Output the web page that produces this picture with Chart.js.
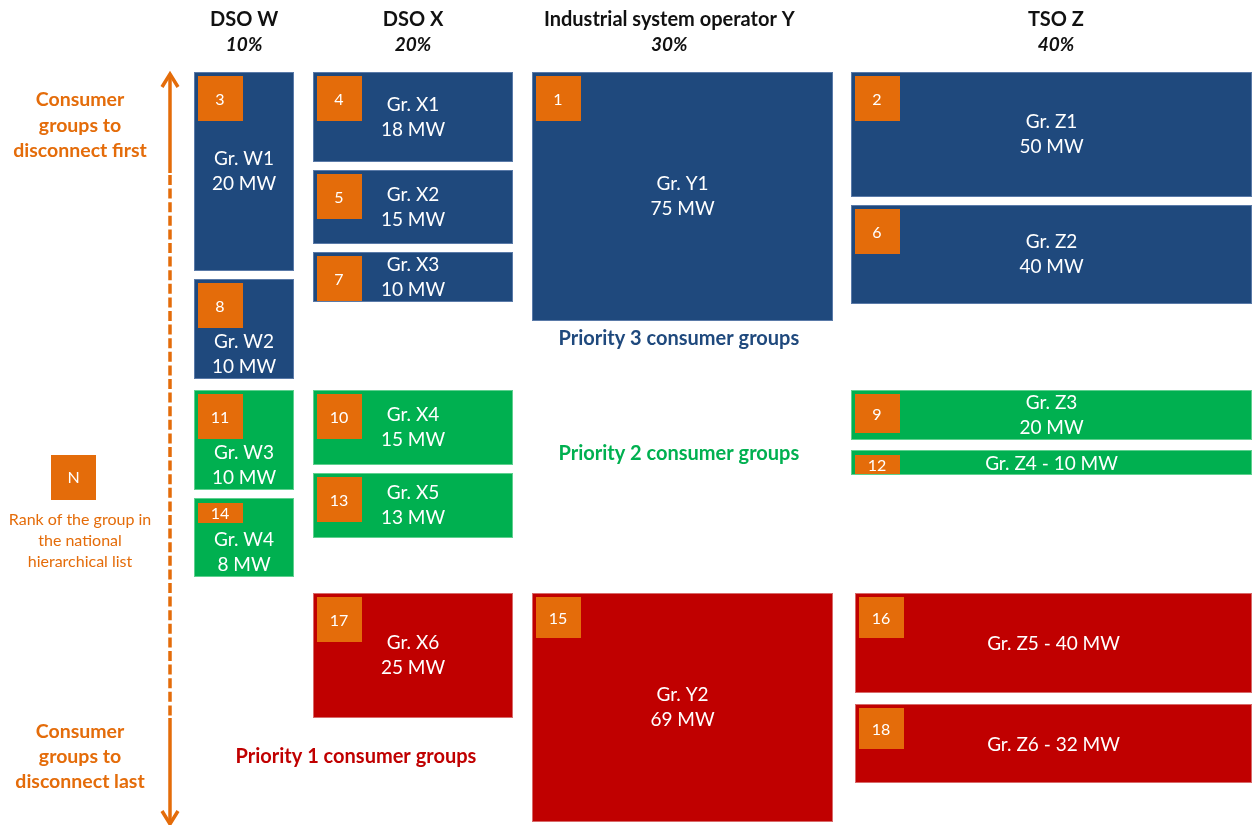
<!DOCTYPE html>
<html><head><meta charset="utf-8">
<script src="https://cdn.jsdelivr.net/npm/chart.js@4/dist/chart.umd.min.js"></script>
<style>html,body{margin:0;padding:0;background:#fff}#wrap{width:1253px;height:825px;position:relative}</style>
</head><body><div id="wrap"><canvas id="c" width="1253" height="825"></canvas></div>
<script>
// ---------- DATA ----------
const operators = ['DSO W', 'DSO X', 'Industrial system operator Y', 'TSO Z'];
const operatorShares = [10, 20, 30, 40]; // %
const groupNames = ['Gr. W1','Gr. W2','Gr. W3','Gr. W4','Gr. X1','Gr. X2','Gr. X3','Gr. X4','Gr. X5','Gr. X6','Gr. Y1','Gr. Y2','Gr. Z1','Gr. Z2','Gr. Z3','Gr. Z4','Gr. Z5','Gr. Z6'];
const groupOperator = [0,0,0,0,1,1,1,1,1,1,2,2,3,3,3,3,3,3];
const groupPriority = [3,3,2,2,3,3,3,2,2,1,3,1,3,3,2,2,1,1];
const groupMW = [20,10,10,8,18,15,10,15,13,25,75,69,50,40,20,10,40,32];
const groupRank = [3,8,11,14,4,5,7,10,13,17,1,15,2,6,9,12,16,18];
const priorities = [3, 2, 1];
const priorityLabels = ['Priority 3 consumer groups','Priority 2 consumer groups','Priority 1 consumer groups'];

// ---------- LAYOUT / STYLE ----------
const FONT = 'Lato, "Open Sans", sans-serif';
const COL_GAP = 1.85;          // in % units
const ROW_GAP = 0.08;          // in MW/% units
const BAND_START = {3: 0, 2: 3.19, 1: 5.226};
const PRIORITY_COLORS = {3: '#1F497D', 2: '#00B050', 1: '#C00000'};
const PRIORITY_BORDER = {3: '#5a7aa8', 2: '#5fd08f', 1: '#d86a6a'};
const PRIORITY_LABEL_POS = {3: [48.35, 2.678], 2: [48.35, 3.832], 1: [16.15, 6.871]};
const ORANGE = '#E46C0A';
const oneLine = new Set(['Gr. Z4','Gr. Z5','Gr. Z6']);
const bottomText = new Set(['Gr. W2','Gr. W3','Gr. W4']);
const badgeH = {'Gr. W4': 20, 'Gr. Z4': 19, 'Gr. Z3': 39, 'Gr. Z5': 41, 'Gr. Z6': 41, 'Gr. Y2': 41};
const leftInset = {'Gr. Z5': 0.4, 'Gr. Z6': 0.4};
const extraGap = {'Gr. Z6': 0.03, 'Gr. Z4': 0.02};
const headerShift = [0, 0, -1.3, 0.4];

// column extents (x in %)
const colX0 = [];
{ let acc = 0; operatorShares.forEach((s, i) => { colX0.push(acc); acc += s + COL_GAP; }); }

// stack groups into rectangles (value space)
const rects = [];
{
  const cursor = {};
  groupNames.forEach((n, i) => {
    const c = groupOperator[i], p = groupPriority[i];
    const key = c + '_' + p;
    if (cursor[key] === undefined) cursor[key] = BAND_START[p];
    const h = groupMW[i] / operatorShares[c];
    const y0 = cursor[key] + (extraGap[n] || 0), y1 = y0 + h;
    cursor[key] = y1 + ROW_GAP;
    rects.push({name: n, mw: groupMW[i], rank: groupRank[i], p,
      x0: colX0[c] + (leftInset[n] || 0), x1: colX0[c] + operatorShares[c], y0, y1});
  });
}

const drawPlugin = {
  id: 'blocks',
  afterDraw(chart) {
    const {ctx} = chart;
    const xs = chart.scales.x, ys = chart.scales.y;
    ctx.save();
    // rectangles
    rects.forEach(r => {
      const L = Math.round(xs.getPixelForValue(r.x0)), R = Math.round(xs.getPixelForValue(r.x1));
      const T = Math.round(ys.getPixelForValue(r.y0)), B = Math.round(ys.getPixelForValue(r.y1));
      ctx.fillStyle = PRIORITY_COLORS[r.p];
      ctx.fillRect(L, T, R - L, B - T);
      ctx.strokeStyle = PRIORITY_BORDER[r.p];
      ctx.lineWidth = 1;
      ctx.strokeRect(L + 0.5, T + 0.5, R - L - 1, B - T - 1);
      // badge
      const bh = badgeH[r.name] || 45;
      const bx = L + 4, by = T + (bh < 30 ? 5 : 4);
      ctx.fillStyle = ORANGE;
      ctx.fillRect(bx, by, 45, bh);
      ctx.fillStyle = '#fff';
      ctx.font = '16px ' + FONT;
      ctx.textAlign = 'center'; ctx.textBaseline = 'middle';
      ctx.fillText(String(r.rank), bx + 22, by + bh / 2 + 1);
      // label
      ctx.font = '19px ' + FONT;
      const cx = (L + R) / 2;
      if (oneLine.has(r.name)) {
        ctx.fillText(r.name + ' - ' + r.mw + ' MW', cx, (T + B) / 2 + 1);
      } else {
        let cy = (T + B) / 2;
        if (bottomText.has(r.name)) cy = B - 25;
        ctx.fillText(r.name, cx, cy - 12.5);
        ctx.fillText(r.mw + ' MW', cx, cy + 12.5);
      }
    });
    // headers
    operators.forEach((o, i) => {
      const cx = xs.getPixelForValue(colX0[i] + operatorShares[i] / 2 + headerShift[i]);
      ctx.fillStyle = '#111';
      ctx.textAlign = 'center'; ctx.textBaseline = 'middle';
      ctx.font = 'bold 20px ' + FONT;
      ctx.fillText(o, cx, 20);
      ctx.font = 'italic bold 19px ' + FONT;
      ctx.fillText(operatorShares[i] + '%', cx, 45);
    });
    // priority labels
    priorities.forEach((p, i) => {
      const pos = PRIORITY_LABEL_POS[p];
      ctx.fillStyle = PRIORITY_COLORS[p];
      ctx.font = 'bold 20px ' + FONT;
      ctx.fillText(priorityLabels[i], xs.getPixelForValue(pos[0]), ys.getPixelForValue(pos[1]));
    });
    // left annotations
    ctx.fillStyle = ORANGE;
    ctx.font = 'bold 19.5px ' + FONT;
    ['Consumer', 'groups to', 'disconnect first'].forEach((t, k) => ctx.fillText(t, 80, 100 + k * 25.5));
    ['Consumer', 'groups to', 'disconnect last'].forEach((t, k) => ctx.fillText(t, 80, 732 + k * 25));
    // legend badge
    ctx.fillRect(51, 455, 45, 45);
    ctx.fillStyle = '#fff';
    ctx.font = '16px ' + FONT;
    ctx.fillText('N', 73.5, 478);
    ctx.fillStyle = ORANGE;
    ctx.font = '16px ' + FONT;
    ['Rank of the group in', 'the national', 'hierarchical list'].forEach((t, k) => ctx.fillText(t, 80, 520 + k * 21));
    // arrow
    const ax = 170;
    ctx.strokeStyle = ORANGE;
    ctx.lineWidth = 3.5;
    ctx.lineCap = 'butt';
    ctx.beginPath(); ctx.moveTo(ax, 74); ctx.lineTo(ax, 173); ctx.stroke();
    ctx.beginPath(); ctx.moveTo(ax, 718); ctx.lineTo(ax, 823); ctx.stroke();
    ctx.setLineDash([10, 3.6]);
    ctx.beginPath(); ctx.moveTo(ax, 175); ctx.lineTo(ax, 716); ctx.stroke();
    ctx.setLineDash([]);
    ctx.lineJoin = 'miter';
    ctx.beginPath(); ctx.moveTo(ax - 8, 87); ctx.lineTo(ax, 74); ctx.lineTo(ax + 8, 87); ctx.stroke();
    ctx.beginPath(); ctx.moveTo(ax - 8, 811); ctx.lineTo(ax, 824); ctx.lineTo(ax + 8, 811); ctx.stroke();
    ctx.restore();
  }
};

new Chart(document.getElementById('c'), {
  type: 'scatter',
  data: { datasets: priorities.map((p, i) => ({
    label: priorityLabels[i],
    data: rects.filter(r => r.p === p).map(r => ({x: (r.x0 + r.x1) / 2, y: (r.y0 + r.y1) / 2})),
    pointRadius: 0, pointHoverRadius: 0, backgroundColor: PRIORITY_COLORS[p]
  })) },
  options: {
    responsive: false, animation: false, devicePixelRatio: 1,
    layout: {padding: 0},
    plugins: {legend: {display: false}, tooltip: {enabled: false}},
    scales: {
      x: {type: 'linear', display: false, min: -19.34, max: 105.6},
      y: {type: 'linear', display: false, reverse: true, min: -0.722, max: 7.553}
    }
  },
  plugins: [drawPlugin]
});
</script></body></html>
